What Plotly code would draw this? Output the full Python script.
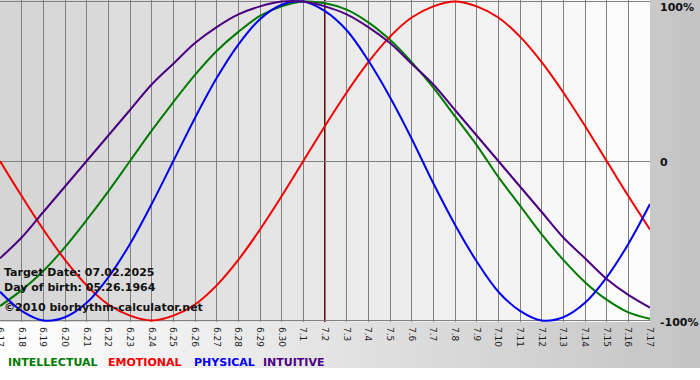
import plotly.graph_objects as go

# ---------------- data ----------------
day_labels = ["6.17", "6.18", "6.19", "6.20", "6.21", "6.22", "6.23", "6.24", "6.25",
              "6.26", "6.27", "6.28", "6.29", "6.30", "7.1", "7.2", "7.3", "7.4", "7.5",
              "7.6", "7.7", "7.8", "7.9", "7.10", "7.11", "7.12", "7.13", "7.14", "7.15",
              "7.16", "7.17"]
intellectual = [-91, -81, -69, -54, -37, -19, 0, 19, 37, 54, 69, 81, 91, 97, 100, 99,
                95, 87, 76, 62, 46, 28, 10, -10, -28, -46, -62, -76, -87, -95, -99]
emotional = [0, -22, -43, -62, -78, -90, -97, -100, -97, -90, -78, -62, -43, -22, 0, 22,
             43, 62, 78, 90, 97, 100, 97, 90, 78, 62, 43, 22, 0, -22, -43]
physical = [-82, -94, -100, -98, -89, -73, -52, -27, 0, 27, 52, 73, 89, 98, 100, 94,
            82, 63, 40, 14, -14, -40, -63, -82, -94, -100, -98, -89, -73, -52, -27]
intuitive = [-61, -48, -32, -16, 0, 16, 32, 48, 61, 74, 84, 92, 97, 100, 100, 97,
             92, 84, 74, 61, 48, 32, 16, 0, -16, -32, -48, -61, -74, -84, -92]
series_names = ["INTELLECTUAL", "EMOTIONAL", "PHYSICAL", "INTUITIVE"]
y_ticks = [100, 0, -100]
y_tick_labels = ["100%", "0", "-100%"]
target_label = "7.2"
target_date = "07.02.2025"
birth_date = "05.26.1964"
credit = "©2010 biorhythm-calculator.net"

# ---------------- styling ----------------
W, H = 700, 380
ML, MR, MT, MB = 0, 50, 0, 58
PW, PH = W - ML - MR, H - MT - MB
FONT = "Verdana, DejaVu Sans, sans-serif"
colors = {"INTELLECTUAL": "#007a00", "EMOTIONAL": "#f00000",
          "PHYSICAL": "#0000ee", "INTUITIVE": "#4b0082"}
series = {"INTELLECTUAL": intellectual, "EMOTIONAL": emotional,
          "PHYSICAL": physical, "INTUITIVE": intuitive}

def px_x(px):
    return (px - ML) / PW

def px_y(py):
    return (MT + PH - py) / PH

xs = list(range(len(day_labels)))

fig = go.Figure()
for name in series_names:
    fig.add_trace(go.Scatter(x=xs, y=series[name], mode="lines", name=name,
                             line=dict(color=colors[name], width=2, shape="spline", smoothing=1),
                             hoverinfo="skip", showlegend=False))

shapes = []
# paper background gradient (white -> gray, left to right)
NSTRIP = 70
for i in range(NSTRIP):
    v = int(round(255 - 59 * (i + 0.5) / NSTRIP))
    shapes.append(dict(type="rect", xref="paper", yref="paper",
                       x0=px_x(i * W / NSTRIP), x1=px_x((i + 1) * W / NSTRIP + 1),
                       y0=px_y(368), y1=px_y(0), line=dict(width=0),
                       fillcolor=f"rgb({v},{v},{v})", layer="below"))
# plot background stripes (gray -> white, left to right)
ncol = len(day_labels) - 1
for i in range(ncol):
    v = int(round(212 + 41 * (i + 0.5) / ncol))
    shapes.append(dict(type="rect", xref="x", yref="paper", x0=i, x1=i + 1, y0=0, y1=1,
                       line=dict(width=0), fillcolor=f"rgb({v},{v},{v})", layer="below"))
# target date line
ti = day_labels.index(target_label)
shapes.append(dict(type="line", xref="x", yref="paper", x0=ti, x1=ti, y0=0, y1=1,
                   line=dict(color="#7a0000", width=2), layer="between"))

annotations = []
for val, lab, ys in zip(y_ticks, y_tick_labels, [-6, -1, -2]):
    annotations.append(dict(text=f"<b>{lab}</b>", xref="paper", yref="y", x=1, y=val,
                            xanchor="left", yanchor="middle", xshift=8, yshift=ys,
                            showarrow=False, font=dict(family=FONT, size=11, color="#111")))
for txt, py in [(f"Target Date: {target_date}", 272), (f"Day of birth: {birth_date}", 287),
                (credit, 307)]:
    annotations.append(dict(text=f"<b>{txt}</b>", xref="paper", yref="paper",
                            x=px_x(2), y=px_y(py), xanchor="left", yanchor="middle",
                            showarrow=False, font=dict(family=FONT, size=11, color="#111")))
legend_x = [6, 106, 192, 261]
for name, lx in zip(series_names, legend_x):
    annotations.append(dict(text=f"<b>{name}</b>", xref="paper", yref="paper",
                            x=px_x(lx), y=px_y(362), xanchor="left", yanchor="middle",
                            showarrow=False, font=dict(family=FONT, size=11, color=colors[name])))

fig.update_layout(
    width=W, height=H, margin=dict(l=ML, r=MR, t=MT, b=MB, pad=0),
    paper_bgcolor="white", plot_bgcolor="rgba(0,0,0,0)",
    shapes=shapes, annotations=annotations, showlegend=False,
    xaxis=dict(range=[0, ncol], tickmode="array", tickvals=xs, ticktext=day_labels,
               tickangle=90, tickfont=dict(family=FONT, size=9, color="#1a1a1a"),
               showgrid=True, gridcolor="#808080", gridwidth=1, zeroline=False,
               ticks="", ticklabelstandoff=4, ticklabeloverflow="allow",
               automargin=False, fixedrange=True),
    yaxis=dict(range=[-101, 101], tickmode="array", tickvals=y_ticks,
               showticklabels=False, showgrid=True, gridcolor="#808080", gridwidth=1,
               zeroline=False, ticks="", automargin=False, fixedrange=True),
)

fig.write_html("out.html", config={"displayModeBar": False},
               post_script="document.body.style.margin='0';document.body.style.overflow='hidden';")
